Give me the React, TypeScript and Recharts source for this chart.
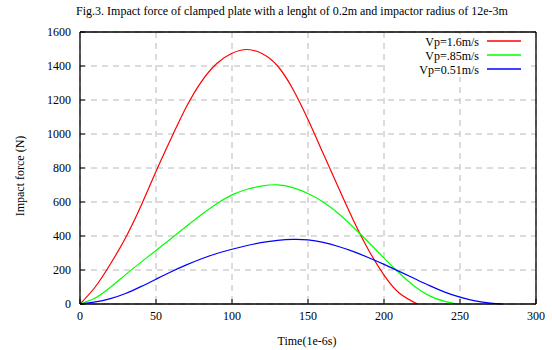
import {
  LineChart,
  Line,
  XAxis,
  YAxis,
  CartesianGrid,
} from "recharts";

// times (1e-6 s) and impact force (N) for each impactor velocity
const redTime = [0, 10, 20, 30, 40, 50, 60, 70, 80, 90, 100, 110, 120, 130, 140, 150, 160, 170, 180, 190, 200, 210, 222];
const redForce = [0, 100, 235, 390, 575, 780, 975, 1160, 1310, 1415, 1475, 1497, 1472, 1400, 1265, 1085, 885, 685, 490, 315, 170, 65, 0];

const greenTime = [0, 10, 20, 30, 40, 50, 60, 70, 80, 90, 100, 110, 120, 130, 140, 150, 160, 170, 180, 190, 200, 210, 220, 230, 240, 248];
const greenForce = [0, 35, 98, 173, 245, 315, 385, 457, 527, 590, 642, 675, 695, 701, 685, 650, 600, 532, 450, 362, 270, 182, 105, 48, 15, 0];

const blueTime = [0, 10, 20, 30, 40, 50, 60, 70, 80, 90, 100, 110, 120, 130, 140, 150, 160, 170, 180, 190, 200, 210, 220, 230, 240, 250, 260, 270, 278];
const blueForce = [0, 12, 32, 62, 102, 146, 190, 230, 266, 297, 322, 344, 362, 374, 380, 377, 362, 338, 308, 272, 233, 192, 150, 108, 70, 40, 18, 5, 0];

const seriesNames = ["Vp=1.6m/s", "Vp=.85m/s", "Vp=0.51m/s"];
const seriesColors = ["#ff0000", "#00ff00", "#0000ff"];
const xTicks = [0, 50, 100, 150, 200, 250, 300];
const yTicks = [0, 200, 400, 600, 800, 1000, 1200, 1400, 1600];

const toRows = (ts: number[], fs: number[]) => ts.map((t, i) => ({ t, f: fs[i] }));

const FONT = "'Liberation Serif', 'Times New Roman', serif";
const textStyle = { fontFamily: FONT };

const XTick = ({ x, y, payload }: any) => (
  <text x={x} y={y} dy="0.71em" textAnchor="middle" fontFamily={FONT} style={textStyle} fontSize={12} fill="#000">
    {payload.value}
  </text>
);

const YTick = ({ x, y, payload }: any) => (
  <text x={x} y={y} dy="0.355em" textAnchor="end" fontFamily={FONT} style={textStyle} fontSize={12} fill="#000">
    {payload.value}
  </text>
);

export default function App() {
  const series = [
    toRows(redTime, redForce),
    toRows(greenTime, greenForce),
    toRows(blueTime, blueForce),
  ];
  return (
    <div style={{ position: "absolute", left: 0, top: 0, fontFamily: FONT }}>
      <LineChart
        width={552}
        height={350}
        margin={{ top: 32, right: 16, bottom: 16, left: 20 }}
        style={{ background: "#fff", fontFamily: FONT }}
      >
        <CartesianGrid stroke="#b8b8b8" strokeDasharray="6 5" />
        <XAxis
          dataKey="t"
          type="number"
          domain={[0, 300]}
          ticks={xTicks}
          allowDuplicatedCategory={false}
          height={30}
          tick={<XTick />}
          axisLine={{ stroke: "#000", strokeWidth: 1.3 }}
          tickLine={{ stroke: "#000" }}
          tickSize={-5}
          tickMargin={12}
        />
        <XAxis
          xAxisId="top"
          orientation="top"
          type="number"
          domain={[0, 300]}
          ticks={xTicks}
          mirror
          tick={false}
          tickSize={5}
          axisLine={{ stroke: "#000", strokeWidth: 1.3 }}
          tickLine={{ stroke: "#000" }}
        />
        <YAxis
          type="number"
          domain={[0, 1600]}
          ticks={yTicks}
          width={60}
          tick={<YTick />}
          axisLine={{ stroke: "#000", strokeWidth: 1.3 }}
          tickLine={{ stroke: "#000" }}
          tickSize={-5}
          tickMargin={14}
        />
        <YAxis
          yAxisId="right"
          orientation="right"
          type="number"
          domain={[0, 1600]}
          ticks={yTicks}
          mirror
          tick={false}
          tickSize={5}
          axisLine={{ stroke: "#000", strokeWidth: 1.3 }}
          tickLine={{ stroke: "#000" }}
        />
        {series.map((rows, i) => (
          <Line
            key={seriesNames[i]}
            data={rows}
            dataKey="f"
            name={seriesNames[i]}
            type="natural"
            stroke={seriesColors[i]}
            strokeWidth={1.2}
            dot={false}
            isAnimationActive={false}
          />
        ))}
        {/* legend, top right inside the frame */}
        <rect x={385} y={34} width={145} height={43} fill="#fff" />
        {seriesNames.map((name, i) => (
          <g key={name}>
            <text
              x={479}
              y={41.5 + i * 14}
              textAnchor="end"
              dominantBaseline="central"
              fontFamily={FONT}
              fontSize={12}
              fill="#000"
            >
              {name}
            </text>
            <line
              x1={487}
              x2={521}
              y1={41 + i * 14}
              y2={41 + i * 14}
              stroke={seriesColors[i]}
              strokeWidth={1.3}
            />
          </g>
        ))}
        {/* title and axis labels */}
        <text x={292} y={15} textAnchor="middle" fontFamily={FONT} fontSize={12} fill="#000">
          Fig.3. Impact force of clamped plate with a lenght of 0.2m and impactor radius of 12e-3m
        </text>
        <text
          x={24}
          y={176}
          textAnchor="middle"
          fontFamily={FONT}
          fontSize={12}
          fill="#000"
          transform="rotate(-90 24 176)"
        >
          Impact force (N)
        </text>
        <text x={307} y={345} textAnchor="middle" fontFamily={FONT} fontSize={12} fill="#000">
          Time(1e-6s)
        </text>
      </LineChart>
    </div>
  );
}
